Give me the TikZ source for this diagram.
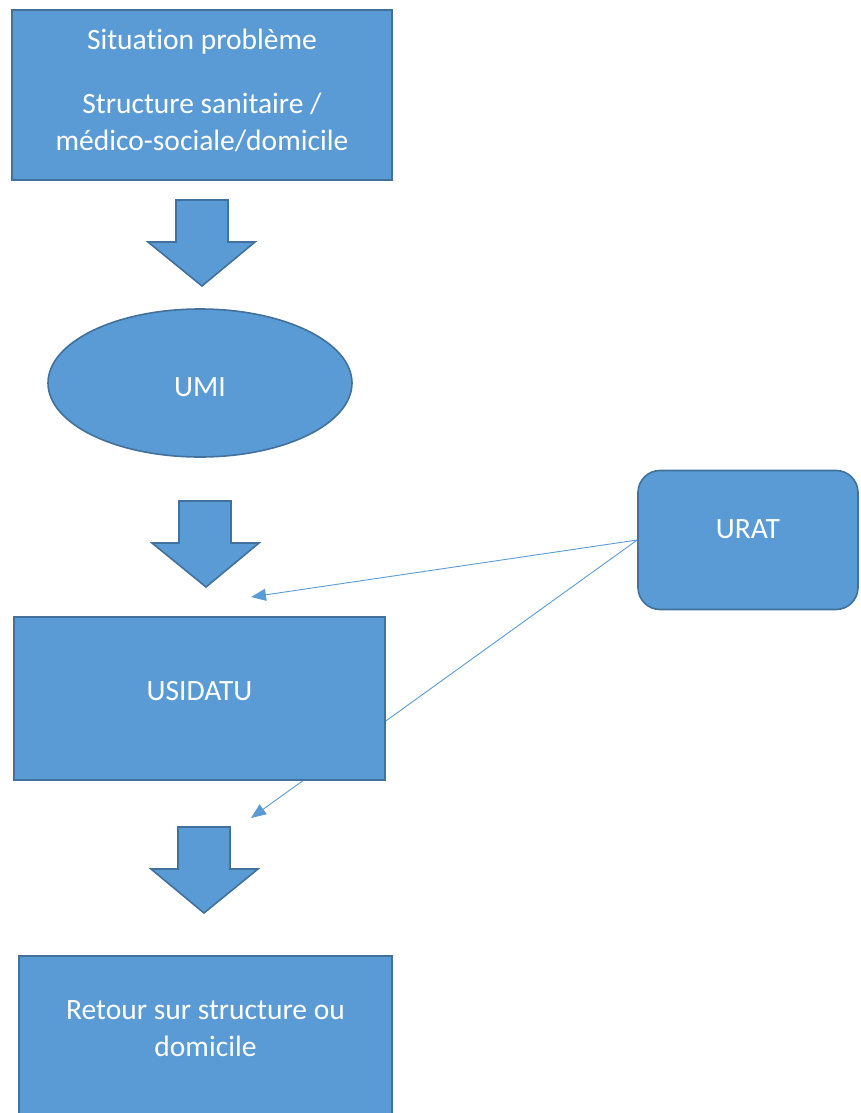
\documentclass[tikz,border=0pt]{standalone}
\usepackage{fontspec}
\setmainfont{Carlito}[RawFeature={-liga}]
\usetikzlibrary{arrows.meta,shapes.geometric}
\definecolor{boxfill}{HTML}{5B9BD5}
\definecolor{boxline}{HTML}{41719C}
\tikzset{
  shapebox/.style={draw=boxline, fill=boxfill, line width=1.6pt, inner sep=0pt},
  lbl/.style={text=white, font=\fontsize{29.5}{37}\selectfont, align=center, inner sep=0pt},
  blockarrow/.style={draw=boxline, fill=boxfill, line width=1.6pt, line join=miter},
  conn/.style={draw=boxfill, line width=0.9pt, -{Triangle[length=15pt,width=12pt]}}
}
\begin{document}
\begin{tikzpicture}[x=1pt,y=-1pt]
\useasboundingbox (0,0) rectangle (860,1113);
% top box
\node[shapebox, rectangle, minimum width=380pt, minimum height=170pt] (sit) at (202,95) {};
\node[lbl] (t1) at (202,42) {Situation problème};
\node[lbl] (t2) at (202,122) {Structure sanitaire /\\médico-sociale/domicile};
% arrow 1
\draw[blockarrow] (176,200) -- (228,200) -- (228,242) -- (255,242) -- (202,286) -- (148,242) -- (176,242) -- cycle;
% UMI
\node[shapebox, ellipse, minimum width=304pt, minimum height=148pt] (umi) at (200,383) {};
\node[lbl] (tumi) at (200,387) {UMI};
% arrow 2
\draw[blockarrow] (179,501) -- (231,501) -- (231,543) -- (259,543) -- (206,587) -- (152,543) -- (179,543) -- cycle;
% URAT
\node[shapebox, rectangle, rounded corners=22pt, minimum width=220pt, minimum height=139pt] (urat) at (748,540) {};
\node[lbl] (turat) at (748,529) {URAT};
% connectors
\coordinate (c1) at (251,597);
\coordinate (c2) at (251,818);
\draw[conn] (urat.west) -- (c1);
\draw[conn] (urat.west) -- (c2);
% USIDATU
\node[shapebox, rectangle, minimum width=371pt, minimum height=163pt] (usi) at (199.5,698.5) {};
\node[lbl] (tusi) at (199.5,691) {USIDATU};
% arrow 3
\draw[blockarrow] (178,827) -- (230,827) -- (230,869) -- (258,869) -- (204,913) -- (151,869) -- (178,869) -- cycle;
% bottom box
\node[shapebox, rectangle, minimum width=373pt, minimum height=174pt] (ret) at (205.5,1043) {};
\node[lbl] (tret) at (205.5,1029) {Retour sur structure ou\\domicile};
\end{tikzpicture}
\end{document}
